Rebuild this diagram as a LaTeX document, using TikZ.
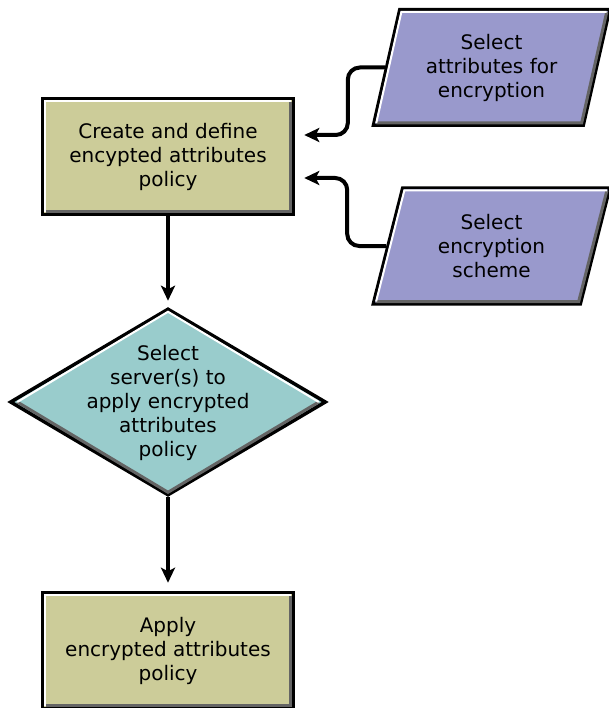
\documentclass[tikz,border=0pt]{standalone}
\usepackage{fontspec}
\setmainfont{DejaVu Sans}
\usetikzlibrary{arrows.meta,shapes.geometric,calc}
\definecolor{khaki}{RGB}{204,204,153}
\definecolor{lilac}{RGB}{153,153,204}
\definecolor{teal}{RGB}{153,204,204}
\definecolor{rimgray}{RGB}{100,100,100}

\begin{document}
\begin{tikzpicture}[x=1pt,y=-1pt,>={Stealth[length=15pt,width=14pt,inset=3.5pt]},
    every node/.style={font=\fontsize{20}{24}\selectfont,align=center},
    procbox/.style={draw,line width=3.5pt,fill=khaki,minimum width=251pt,minimum height=116pt},
    inputbox/.style={trapezium,trapezium left angle=75,trapezium right angle=105,
      trapezium stretches=true,draw,line width=3pt,fill=lilac,
      minimum width=237pt,minimum height=116pt},
    decision/.style={diamond,draw,line width=3.5pt,fill=teal,inner sep=0pt,
      minimum width=316pt,minimum height=187pt},
    hilite/.style={draw=white,line width=2pt},
    lowlite/.style={draw=rimgray,line width=3pt},
    flow/.style={->,line width=4pt}]
  \useasboundingbox (0,0) rectangle (608,708);

  \node[procbox] (define) at (168,156.5) {Create and define\\encypted attributes\\policy};
  \node[inputbox] (attr) at (491.5,67.5) {Select\\attributes for\\encryption};
  \node[inputbox] (scheme) at (491.5,246) {Select\\encryption\\scheme};
  \node[decision] (server) at (168,402) {};
  \node (serverlbl) at (168,403) {Select\\server(s) to\\apply encrypted\\attributes\\policy};
  \node[procbox] (apply) at (168,650.5) {Apply\\encrypted attributes\\policy};

  % bevel edges
  \foreach \b in {define,apply} {
    \draw[lowlite] ([shift={(5pt,5pt)}]\b.south west) -| ([shift={(-5pt,-5pt)}]\b.north east);
    \draw[hilite] ([shift={(4.5pt,4.5pt)}]\b.south west) |- ([shift={(-4.5pt,-4.5pt)}]\b.north east);
  }
  \foreach \p in {attr,scheme} {
    \draw[lowlite] ([shift={(5pt,4pt)}]\p.bottom left corner) -- ([shift={(-3pt,4pt)}]\p.bottom right corner)
      -- ([shift={(-5pt,-4pt)}]\p.top right corner);
    \draw[hilite] ([shift={(5pt,4pt)}]\p.bottom left corner) -- ([shift={(3pt,-4pt)}]\p.top left corner)
      -- ([shift={(-5pt,-4pt)}]\p.top right corner);
  }
  \draw[lowlite] ([xshift=9pt]server.west) -- ([yshift=5pt]server.south) -- ([xshift=-9pt]server.east);
  \draw[hilite] ([xshift=9pt]server.west) -- ([yshift=-5pt]server.north) -- ([xshift=-9pt]server.east);

  % connectors
  \draw[flow,shorten >=6pt] (define) -- (server);
  \draw[flow,shorten >=8pt] (server) -- (apply);
  \draw[flow,rounded corners=12pt,shorten >=9pt] (attr.west) -- ++(-37,0) |- ([yshift=21.5pt]define.east);
  \draw[flow,rounded corners=12pt,shorten >=9pt] (scheme.west) -- ++(-39,0) |- ([yshift=-21.5pt]define.east);
\end{tikzpicture}
\end{document}
